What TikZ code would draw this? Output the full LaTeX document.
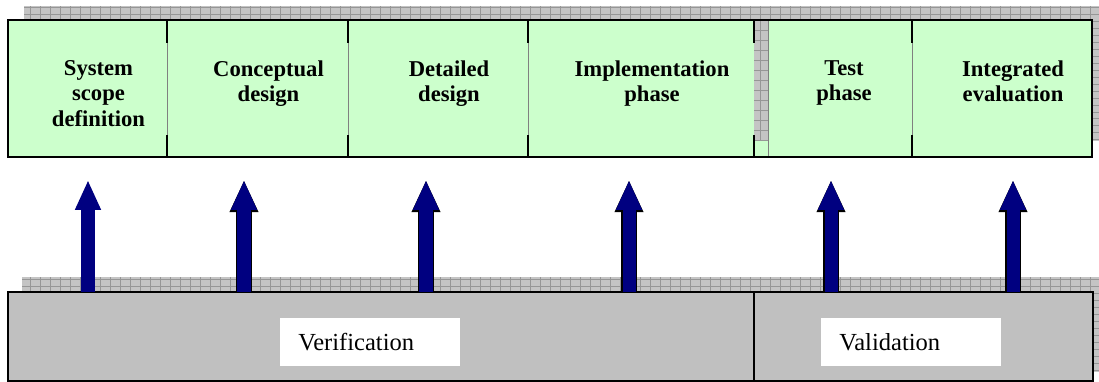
\documentclass[tikz,border=0pt]{standalone}
\usepackage{fontspec}
\setmainfont{Liberation Serif}
\usetikzlibrary{arrows.meta,fit}

\definecolor{cellgreen}{RGB}{204,255,204}
\definecolor{basegray}{RGB}{192,192,192}
\definecolor{shadegray}{RGB}{196,196,196}
\definecolor{gridgray}{RGB}{150,150,150}
\definecolor{arrownavy}{RGB}{0,0,128}

\begin{document}
\begin{tikzpicture}[x=0.53pt, y=-0.53pt,
    cell/.style={draw=gray, fill=cellgreen, inner sep=0pt, outer sep=0pt},
    phase/.style={font=\fontsize{12}{13.5}\selectfont\bfseries, align=center, anchor=north, inner sep=0pt},
    basecell/.style={draw=black, line width=0.8pt, fill=basegray, inner sep=0pt, outer sep=0pt},
    tag/.style={fill=white, anchor=north west, inner xsep=9.5pt, inner ysep=0pt, minimum height=25.4pt, text width=76.4pt, align=left, font=\fontsize{13}{15}\selectfont},
    uparrow/.style={draw=arrownavy, line width=6.9pt, -{Triangle[width=12.7pt, length=15.9pt]}},
    rimmed/.style={preaction={draw=black, line width=8pt, -{Triangle[width=14pt, length=17pt]}}}
  ]
  \useasboundingbox (0,0) rectangle (1099,382);

  % shadows behind the boxes
  \foreach \ax/\ay/\bx/\by in {24/6/1099/20, 1092/20/1099/141, 22/277/1099/292, 1093/292/1099/372} {
    \fill[shadegray] (\ax,\ay) rectangle (\bx,\by);
    \draw[gridgray, very thin, xstep=5.3pt, ystep=3.7pt] (\ax,\ay) grid (\bx,\by);
  }

  % phases
  \node[cell, fit={(8,20) (167,157)}] (scope) {};
  \node[cell, fit={(167,20) (348,157)}] (concept) {};
  \node[cell, fit={(348,20) (528,157)}] (detail) {};
  \node[cell, fit={(528,20) (754,157)}] (impl) {};
  \node[cell, fit={(754,20) (912,157)}] (test) {};
  \node[cell, fit={(912,20) (1092,157)}] (integ) {};

  \fill[shadegray] (754,20) rectangle (768,141);
  \draw[gridgray, very thin, xstep=5.3pt, ystep=5.3pt] (754,20) grid (768,141);
  \draw[gray] (768,20) -- (768,157);

  \draw[black, line width=0.8pt] (scope.north west) rectangle (integ.south east);
  \foreach \c in {scope, concept, detail, impl, test} {
    \draw[black, line width=0.8pt] (\c.north east) -- ++(0,23);
    \draw[black, line width=0.8pt] (\c.south east) -- ++(0,-22);
  }

  \node[phase] (scopetxt) at ([shift={(11,40)}]scope.north) {System\\scope\\definition};
  \node[phase] (concepttxt) at ([shift={(11,40)}]concept.north) {Conceptual\\design};
  \node[phase] (detailtxt) at ([shift={(11,40)}]detail.north) {Detailed\\design};
  \node[phase] (impltxt) at ([shift={(11,40)}]impl.north) {Implementation\\phase};
  \node[phase] (testtxt) at ([shift={(11,40)}]test.north) {Test\\phase};
  \node[phase] (integtxt) at ([shift={(11,40)}]integ.north) {Integrated\\evaluation};

  % verification and validation
  \node[basecell, fit={(8,292) (754,381)}] (verif) {};
  \node[basecell, fit={(754,292) (1093,381)}] (valid) {};
  \node[tag] (veriftag) at (280,318) {Verification};
  \node[tag] (validtag) at (821,318) {Validation};

  \foreach \n/\x in {a/88, b/244, c/426, d/629, e/831, f/1013}
    \coordinate (tip\n) at (\x,180);
  \draw[uparrow] (tipa |- verif.north) -- (tipa);
  \draw[uparrow, rimmed] (tipb |- verif.north) -- (tipb);
  \draw[uparrow, rimmed] (tipc |- verif.north) -- (tipc);
  \draw[uparrow, rimmed] (tipd |- verif.north) -- (tipd);
  \draw[uparrow, rimmed] (tipe |- valid.north) -- (tipe);
  \draw[uparrow, rimmed] (tipf |- valid.north) -- (tipf);
\end{tikzpicture}
\end{document}
